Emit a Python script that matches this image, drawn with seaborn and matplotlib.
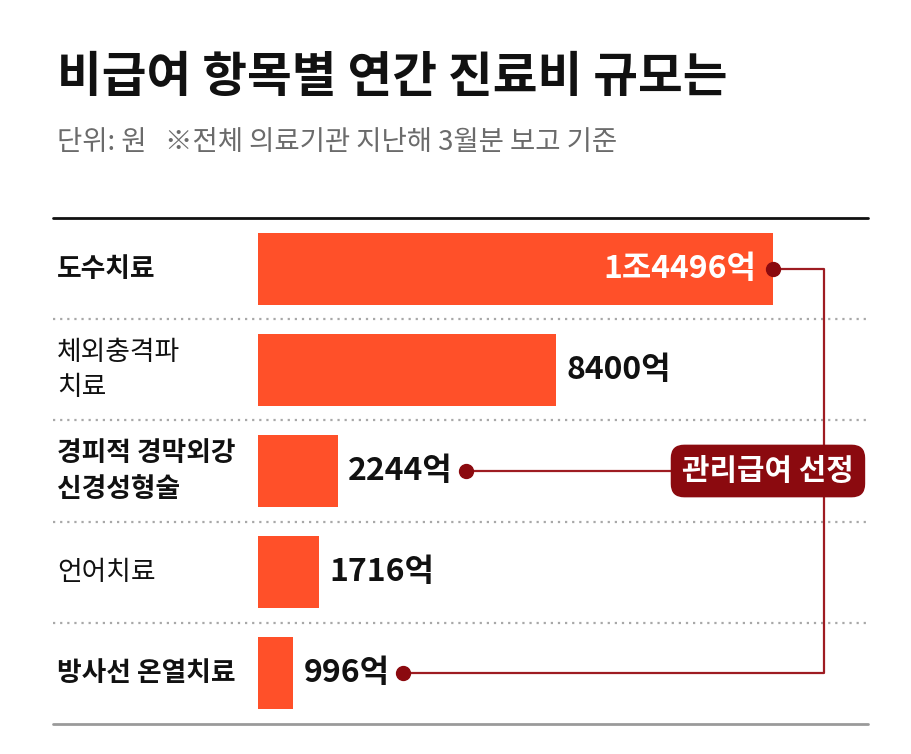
import matplotlib
matplotlib.use("Agg")
import matplotlib.pyplot as plt
import matplotlib.transforms as mtransforms
import seaborn as sns
import pandas as pd

# ---- data ----
categories = ["도수치료", "체외충격파\n치료", "경피적 경막외강\n신경성형술", "언어치료", "방사선 온열치료"]
values = [14496, 8400, 2244, 1716, 996]
bold_rows = [True, False, True, False, True]
highlight = [True, False, True, False, True]
title = "비급여 항목별 연간 진료비 규모는"
subtitle = "단위: 원   ※전체 의료기관 지난해 3월분 보고 기준"
badge = "관리급여 선정"


def fmt(v):
    if v >= 10000:
        return f"{v // 10000}조{v % 10000}억"
    return f"{v}억"


BAR = "#FF5029"
DARK = "#8B0A0F"
LINE = "#9E1C22"

sns.set_style("white")
plt.rcParams['font.family'] = ['Noto Sans CJK KR', 'DejaVu Sans']

W, H = 912, 754
fig = plt.figure(figsize=(W / 100, H / 100), dpi=100)
ax = fig.add_axes([258 / W, 1 - 724 / H, 610 / W, (724 - 218) / H])

df = pd.DataFrame({"item": categories, "value": values})
sns.barplot(data=df, x="value", y="item", orient="h", color=BAR, width=0.71,
            linewidth=0, saturation=1, ax=ax)
ax.set_xlim(0, 610 / (515 / 14496))
ax.set_ylim(4.5, -0.5)
ax.axis('off')

fig_y = mtransforms.blended_transform_factory(fig.transFigure, ax.transData)
axes_y = mtransforms.blended_transform_factory(ax.transAxes, ax.transData)

# row labels
for i, (cat, b) in enumerate(zip(categories, bold_rows)):
    ax.text(57 / W, i, cat, transform=fig_y, ha='left', va='center', fontsize=19.3,
            fontweight='bold' if b else 'medium', color='#111111', linespacing=1.4)

# separators
x_left = (53 - 258) / 610
ax.plot([x_left, 1], [-0.5, -0.5], transform=axes_y, color='#111111', lw=2, clip_on=False)
ax.plot([x_left, 1], [4.5, 4.5], transform=axes_y, color='#9a9a9a', lw=2, clip_on=False)
for y in [0.5, 1.5, 2.5, 3.5]:
    ax.plot([x_left, 1], [y, y], transform=axes_y, color='#a8a8a8', lw=1.6,
            linestyle=(0, (1, 2.2)), clip_on=False)

# value labels
texts = []
for i, v in enumerate(values):
    if i == 0:
        t = ax.annotate(fmt(v), xy=(v, i), xytext=(-12, 0), textcoords='offset points',
                        ha='right', va='center', color='white', fontsize=23, fontweight='bold')
    else:
        t = ax.annotate(fmt(v), xy=(v, i), xytext=(7.5, 0), textcoords='offset points',
                        ha='left', va='center', color='#111111', fontsize=23, fontweight='bold')
    texts.append(t)

fig.canvas.draw()
renderer = fig.canvas.get_renderer()
inv = ax.transData.inverted()

dot_x = {}
for i, v in enumerate(values):
    if not highlight[i]:
        continue
    if i == 0:
        dot_x[i] = v
    else:
        bb = texts[i].get_window_extent(renderer)
        dot_x[i] = inv.transform((bb.x1 + 13, 0))[0]

xc = inv.transform((ax.transAxes.transform((0.928, 0))[0], 0))[0]
xb = inv.transform((ax.transAxes.transform((0.836, 0))[0], 0))[0]

hl = [i for i in range(len(values)) if highlight[i]]
first, mid, last = hl[0], hl[1], hl[-1]
ax.plot([dot_x[first], xc, xc, dot_x[last]], [first, first, last, last],
        color=LINE, lw=1.6, clip_on=False, zorder=3)
ax.plot([dot_x[mid], xb], [mid, mid], color=LINE, lw=1.6, clip_on=False, zorder=3)
for i in hl:
    ax.plot([dot_x[i]], [i], marker='o', ms=10, color=DARK, clip_on=False, zorder=4)

ax.text(0.836, mid, badge, transform=axes_y, ha='center', va='center', color='white',
        fontsize=21.5, fontweight='bold', zorder=6,
        bbox=dict(boxstyle='round,pad=0.38,rounding_size=0.45', fc=DARK, ec='none'))

# title & subtitle
fig.text(57 / W, 1 - 78 / H, title, fontsize=35, fontweight='heavy', va='center',
         ha='left', color='#111111')
fig.text(57 / W, 1 - 143 / H, subtitle, fontsize=19.8, fontweight='medium', va='center',
         ha='left', color='#6b6b6b')

fig.savefig("out.png", dpi=100)
